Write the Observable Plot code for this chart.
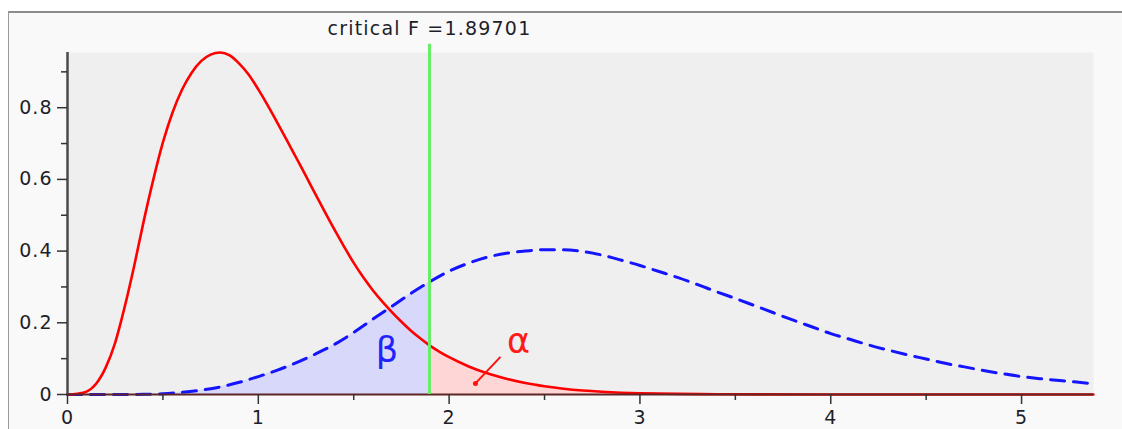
<!DOCTYPE html>
<html>
<head>
<meta charset="utf-8">
<script src="https://cdn.jsdelivr.net/npm/d3@7"></script>
<script src="https://cdn.jsdelivr.net/npm/@observablehq/plot@0.6"></script>
<style>
  html, body { margin: 0; padding: 0; background: #ffffff; }
  #wrap { position: relative; width: 1122px; height: 429px; overflow: hidden; }
  #panel { position: absolute; left: 8px; top: 11px; width: 1200px; height: 500px;
           background: #f9f9f9; border-top: 2px solid #8c8c8c; border-left: 1px solid #9a9a9a; }
  #chart { position: absolute; left: 0; top: 0; }
  #chart svg .lbl text { letter-spacing: 1.2px; }
  #chart svg g[aria-label$="tick label"] text { letter-spacing: 1px; }
</style>
</head>
<body>
<div id="wrap"><div id="panel"></div><div id="chart"></div></div>
<script>
// Central F density (red, solid)
const redX = [0, 0.05, 0.10, 0.15, 0.20, 0.25, 0.30, 0.35, 0.40, 0.45, 0.50, 0.55, 0.60, 0.65, 0.70, 0.75, 0.80,
  0.85, 0.90, 0.95, 1.0, 1.05, 1.10, 1.15, 1.20, 1.25, 1.30, 1.35, 1.40, 1.45, 1.50, 1.55, 1.60, 1.65, 1.70,
  1.75, 1.80, 1.85, 1.897, 1.95, 2.0, 2.1, 2.2, 2.3, 2.4, 2.5, 2.6, 2.7, 2.8, 2.9, 3.0, 3.2, 3.4, 3.6, 4.0, 5.377];
const redY = [0, 0.002, 0.008, 0.030, 0.075, 0.145, 0.245, 0.36, 0.485, 0.600, 0.703, 0.786, 0.850, 0.897, 0.930, 0.948, 0.954,
  0.946, 0.923, 0.892, 0.851, 0.806, 0.758, 0.709, 0.659, 0.609, 0.558, 0.508, 0.459, 0.412, 0.367, 0.327, 0.291, 0.259, 0.230,
  0.203, 0.178, 0.156, 0.137, 0.119, 0.104, 0.079, 0.059, 0.044, 0.032, 0.023, 0.016, 0.011, 0.0075, 0.005, 0.0035, 0.0017, 0.0008, 0.0003, 0, 0];
// Noncentral F density (blue, dashed)
const blueX = [0, 0.3, 0.4, 0.5, 0.6, 0.7, 0.8, 0.9, 1.0, 1.1, 1.2, 1.3, 1.4, 1.5, 1.6, 1.7, 1.8, 1.897,
  2.0, 2.1, 2.2, 2.3, 2.4, 2.5, 2.6, 2.7, 2.8, 2.9, 3.0, 3.1, 3.2, 3.3, 3.4, 3.5, 3.6, 3.7, 3.8, 3.9,
  4.0, 4.1, 4.2, 4.3, 4.4, 4.5, 4.6, 4.7, 4.8, 4.9, 5.0, 5.1, 5.2, 5.3, 5.377];
const blueY = [0, 0, 0.0005, 0.002, 0.006, 0.012, 0.021, 0.034, 0.050, 0.068, 0.089, 0.113, 0.140, 0.173, 0.210, 0.246, 0.282, 0.314,
  0.344, 0.366, 0.383, 0.394, 0.400, 0.404, 0.404, 0.399, 0.389, 0.375, 0.360, 0.343, 0.326, 0.307, 0.287, 0.268, 0.248, 0.228, 0.208, 0.189,
  0.170, 0.154, 0.138, 0.124, 0.111, 0.099, 0.087, 0.077, 0.067, 0.058, 0.050, 0.044, 0.039, 0.034, 0.030];
const critF = 1.89701;
const alphaEnd = 3.6;
const xMajor = [0, 1, 2, 3, 4, 5];
const xMinor = [0.5, 1.5, 2.5, 3.5, 4.5];
const yMajor = [0, 0.2, 0.4, 0.6, 0.8];
const yMinor = [0.1, 0.3, 0.5, 0.7, 0.9];
const alphaLabel = {x: 2.364, y: 0.115, text: "α"};
const betaLabel = {x: 1.674, y: 0.090, text: "β"};
const alphaPointer = {x1: 2.269, y1: 0.105, x2: 2.138, y2: 0.031};

const red = redX.map((x, i) => ({x, y: redY[i]}));
const blue = blueX.map((x, i) => ({x, y: blueY[i]}));
const betaArea = blue.filter(d => d.x <= critF + 0.001);
const alphaArea = red.filter(d => d.x >= critF - 0.001 && d.x <= alphaEnd);

const plot = Plot.plot({
  width: 1122,
  height: 429,
  marginLeft: 67,
  marginRight: 29,
  marginTop: 52,
  marginBottom: 35,
  x: {domain: [0, 5.377], label: null},
  y: {domain: [0, 0.954], label: null},
  style: {background: "transparent", fontFamily: "DejaVu Sans", fontSize: "19px", color: "#1e1e2a", overflow: "visible"},
  marks: [
    Plot.frame({fill: "#efefef", stroke: null}),
    Plot.areaY(betaArea, {x: "x", y: "y", fill: "#d8d8fa", curve: "monotone-x"}),
    Plot.areaY(alphaArea, {x: "x", y: "y", fill: "#ffd6d6", curve: "monotone-x"}),
    Plot.line(blue, {x: "x", y: "y", stroke: "#1414ff", strokeWidth: 3, strokeDasharray: "14,9", curve: "monotone-x"}),
    Plot.line(red, {x: "x", y: "y", stroke: "#ff0000", strokeWidth: 2.6, curve: "monotone-x"}),
    Plot.ruleY([0], {stroke: "#5e2626", strokeWidth: 2}),
    Plot.ruleX([0], {y1: 0, y2: 0.954, stroke: "#4a4a4a", strokeWidth: 2.5}),
    Plot.ruleX([critF], {y1: 0, y2: 0.977, stroke: "#66ee66", strokeWidth: 3}),
    Plot.text([critF], {x: d => d, frameAnchor: "top", dy: -18, lineAnchor: "bottom",
      text: d => "critical F =" + d, className: "lbl", fontSize: 19, fill: "#1e1e2a"}),
    Plot.link([alphaPointer], {x1: "x1", y1: "y1", x2: "x2", y2: "y2", stroke: "#ff1010", strokeWidth: 2}),
    Plot.dot([alphaPointer], {x: "x2", y: "y2", r: 2.5, fill: "#ff1010", stroke: null}),
    Plot.text([alphaLabel], {x: "x", y: "y", text: "text", lineAnchor: "bottom", fontSize: 35, fill: "#ff1a1a"}),
    Plot.text([betaLabel], {x: "x", y: "y", text: "text", lineAnchor: "bottom", fontSize: 35, fill: "#2222ff"}),
    Plot.axisY(yMajor, {tickSize: 10, tickPadding: 5, strokeWidth: 1.5, stroke: "#333",
      tickFormat: d => d === 0 ? "0" : d.toFixed(1)}),
    Plot.axisY(yMinor, {tickSize: 6, strokeWidth: 1.5, stroke: "#333", tickFormat: () => ""}),
    Plot.axisX(xMajor, {tickSize: 10, tickPadding: 6, strokeWidth: 1.5, stroke: "#333", tickFormat: d => String(d)}),
    Plot.axisX(xMinor, {tickSize: 6, strokeWidth: 1.5, stroke: "#333", tickFormat: () => ""})
  ]
});
document.getElementById("chart").appendChild(plot);
</script>
</body>
</html>
